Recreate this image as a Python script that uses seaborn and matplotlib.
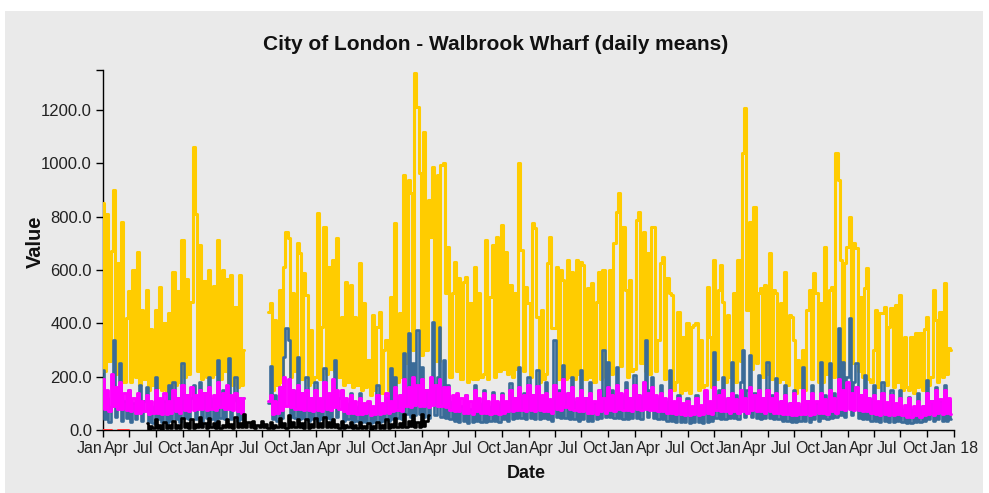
import numpy as np
import pandas as pd
import matplotlib
matplotlib.use('Agg')
import matplotlib.pyplot as plt
import seaborn as sns
from matplotlib.patches import Rectangle
from matplotlib.transforms import ScaledTranslation

nan = np.nan

# four readings per month (days 1, 8, 16, 23)
WEEK_DAYS = [1, 8, 16, 23]

# yellow series, Jan 2010 - Dec 2017
yellow = [
    # 2010
    850, 220, 810, 260,  670, 900, 210, 625,  240, 781, 180, 420,  520, 180, 600, 200,
    669, 170, 450, 190,  525, 150, 380, 170,  450, 160, 537, 150,  400, 140, 440, 160,
    594, 170, 520, 180,  712, 200, 566, 210,  480, 1062, 810, 220, 695, 190, 560, 200,
    # 2011
    600, 200, 540, 210,  712, 190, 600, 220,  566, 180, 580, 170,  460, 160, 580, 170,
    300, nan, nan, nan,  nan, nan, nan, nan,  nan, nan, nan, 444,  475, 150, 412, 170,
    525, 180, 612, 744,  719, 200, 512, 220,  700, 662, 190, 587,  506, 170, 375, 180,
    # 2012
    200, 812, 190, 387,  762, 210, 612, 230,  637, 220, 719, 200,  425, 170, 556, 180,
    544, 160, 425, 170,  625, 150, 475, 160,  262, 130, 431, 150,  387, 444, 140, 300,
    337, 150, 500, 170,  775, 180, 437, 200,  956, 250, 937, 887,  300, 1337, 1212, 962,
    # 2013
    280, 1119, 300, 862, 725, 987, 260, 956,  260, 994, 1000, 512, 687, 200, 512, 631,
    220, 569, 190, 556,  575, 180, 475, 190,  612, 190, 512, 200,  210, 712, 190, 500,
    694, 200, 725, 220,  769, 230, 669, 210,  544, 200, 512, 230,  1000, 675, 220, 537,
    # 2014
    475, 200, 775, 756,  425, 180, 450, 190,  210, 625, 725, 381,  381, 612, 190, 600,
    562, 190, 637, 200,  594, 190, 637, 210,  631, 619, 190, 531,  200, 550, 180, 480,
    594, 190, 600, 200,  230, 600, 210, 700,  819, 887, 240, 762,  525, 200, 562, 220,
    # 2015
    230, 787, 819, 250,  744, 220, 662, 210,  762, 762, 220, 337,  625, 650, 190, 569,
    512, 506, 150, 180,  444, 140, 350, 150,  400, 140, 387, 394,  400, 150, 337, 160,
    170, 537, 350, 160,  637, 190, 525, 619,  481, 180, 431, 200,  200, 512, 180, 637,
    # 2016
    260, 1037, 1206, 450, 781, 230, 837, 250, 512, 531, 200, 544,  210, 662, 190, 525,
    512, 180, 475, 190,  594, 170, 431, 425,  337, 140, 262, 160,  300, 150, 450, 525,
    190, 587, 512, 180,  475, 180, 687, 210,  525, 537, 200, 1037, 937, 637, 230, 625,
    # 2017
    687, 800, 250, 700,  681, 220, 500, 200,  531, 606, 190, 180,  300, 450, 160, 437,
    437, 462, 170, 387,  456, 160, 469, 180,  506, 150, 350, 160,  150, 350, 140, 362,
    160, 362, 150, 380,  425, 170, 200, 525,  412, 180, 444, 200,  550, 210, 306, 300,
]

# steel blue series, Jan 2010 - Dec 2017
blue = [
    # 2010
    225, 40, 120, 30,  90, 337, 50, 140,  250, 35, 110, 45,  150, 30, 100, 40,
    80, 170, 35, 110,  160, 30, 90, 25,   200, 40, 100, 30,  110, 25, 170, 35,
    180, 40, 120, 30,  250, 45, 130, 40,  120, 170, 40, 100, 180, 35, 140, 45,
    # 2011
    200, 40, 120, 35,  262, 45, 150, 40,  130, 269, 40, 110, 200, 35, 120, 40,
    120, nan, nan, nan, nan, nan, nan, nan, nan, nan, nan, 100, 240, 40, 130, 35,
    160, 45, 275, 381, 337, 50, 150, 45,  275, 40, 140, 45,  200, 35, 120, 40,
    # 2012
    180, 35, 110, 40,  231, 45, 130, 40,  140, 262, 50, 120, 150, 35, 100, 40,
    140, 30, 90, 35,   137, 30, 80, 30,   100, 25, 70, 30,   169, 30, 90, 35,
    120, 35, 231, 40,  200, 45, 130, 40,  287, 60, 362, 50,  250, 55, 375, 60,
    # 2013
    237, 50, 150, 45,  160, 406, 55, 200, 387, 50, 262, 45,  169, 40, 110, 35,
    131, 30, 90, 35,   130, 25, 80, 30,   169, 35, 100, 30,  150, 30, 90, 35,
    144, 35, 100, 30,  140, 40, 100, 35,  175, 40, 120, 45,  237, 45, 140, 40,
    # 2014
    200, 45, 130, 40,  225, 40, 120, 45,  180, 40, 110, 35,  337, 50, 150, 45,
    244, 45, 140, 40,  200, 40, 110, 35,  225, 40, 120, 35,  180, 35, 100, 40,
    150, 45, 300, 50,  256, 50, 150, 45,  237, 45, 130, 40,  180, 40, 120, 45,
    # 2015
    206, 45, 130, 40,  180, 337, 50, 150, 200, 45, 120, 40,  169, 40, 110, 35,
    225, 35, 100, 30,  130, 30, 80, 30,   120, 25, 80, 30,   130, 30, 80, 25,
    144, 30, 90, 35,   294, 45, 150, 40,  200, 40, 120, 45,  256, 45, 130, 40,
    # 2016
    180, 300, 50, 150, 280, 50, 140, 45,  206, 40, 120, 45,  256, 45, 130, 40,
    194, 40, 110, 35,  170, 35, 100, 30,  150, 30, 90, 35,   237, 35, 110, 30,
    170, 40, 100, 35,  256, 45, 130, 40,  250, 45, 140, 50,  381, 55, 256, 50,
    # 2017
    200, 419, 55, 180, 250, 45, 130, 40,  206, 40, 120, 35,  170, 35, 100, 30,
    181, 35, 100, 30,  150, 30, 90, 35,   150, 30, 80, 25,   125, 25, 80, 30,
    140, 30, 90, 35,   187, 40, 110, 35,  162, 40, 110, 35,  169, 35, 110, 40,
]

# magenta series, Jan 2010 - Dec 2017
magenta = [
    # 2010
    190, 80, 150, 70,  210, 90, 160, 80,  180, 80, 140, 75,  150, 70, 120, 65,
    140, 65, 110, 70,  130, 60, 110, 65,  150, 65, 120, 60,  140, 60, 110, 65,
    150, 70, 120, 65,  170, 75, 130, 70,  160, 75, 130, 80,  150, 80, 140, 75,
    # 2011
    160, 80, 130, 75,  180, 85, 140, 80,  170, 80, 130, 75,  140, 70, 120, 65,
    120, nan, nan, nan, nan, nan, nan, nan, nan, nan, nan, 110, 130, 60, 110, 65,
    160, 75, 200, 90,  190, 85, 150, 80,  170, 80, 140, 75,  150, 75, 120, 70,
    # 2012
    150, 75, 120, 70,  180, 80, 140, 75,  190, 85, 150, 80,  150, 70, 120, 65,
    130, 65, 110, 60,  120, 60, 100, 65,  110, 55, 90, 60,   130, 60, 100, 65,
    140, 65, 110, 70,  160, 75, 130, 70,  190, 90, 160, 85,  200, 95, 170, 90,
    # 2013
    190, 90, 150, 85,  200, 95, 170, 90,  190, 90, 160, 85,  160, 75, 130, 70,
    140, 70, 120, 65,  130, 65, 110, 60,  150, 70, 120, 65,  140, 65, 110, 60,
    130, 65, 110, 60,  130, 65, 110, 70,  150, 70, 120, 75,  160, 75, 130, 70,
    # 2014
    170, 75, 130, 70,  165, 75, 130, 70,  140, 70, 115, 65,  170, 80, 140, 75,
    190, 85, 140, 80,  160, 75, 120, 70,  150, 70, 120, 65,  140, 65, 110, 60,
    150, 70, 120, 65,  160, 75, 130, 70,  170, 80, 140, 75,  150, 75, 120, 70,
    # 2015
    170, 80, 130, 75,  180, 80, 140, 75,  160, 75, 130, 70,  140, 70, 120, 65,
    150, 65, 110, 60,  120, 60, 100, 55,  110, 55, 90, 60,   120, 55, 95, 60,
    150, 65, 110, 60,  160, 75, 130, 70,  150, 70, 120, 65,  140, 70, 115, 65,
    # 2016
    150, 70, 120, 65,  160, 75, 130, 70,  150, 70, 120, 65,  150, 70, 120, 65,
    140, 65, 110, 60,  130, 60, 100, 55,  140, 55, 100, 60,  150, 60, 110, 55,
    140, 60, 110, 65,  140, 65, 115, 60,  150, 70, 120, 65,  190, 80, 150, 75,
    # 2017
    180, 80, 140, 75,  160, 75, 130, 70,  150, 70, 120, 65,  130, 60, 110, 55,
    140, 60, 105, 55,  130, 55, 100, 60,  120, 55, 95, 50,   120, 50, 90, 55,
    110, 50, 90, 55,   140, 60, 110, 55,  150, 65, 115, 60,  150, 65, 120, 60,
]

# black series, Jun 2010 - Jan 2013
black_start = '2010-06-01'
black = [
    # 2010
    25, 5, 15, 8,   40, 8, 20, 5,   30, 6, 18, 8,   35, 8, 20, 6,
    45, 10, 25, 8,  40, 8, 22, 10,  50, 10, 28, 8,
    # 2011
    45, 10, 25, 8,  35, 8, 20, 10,  40, 10, 22, 8,  50, 10, 28, 12,
    60, 12, 30, 10, 35, 8, 20, 10,  35, 10, 22, 8,  30, 8, 18, 10,
    45, 10, 25, 8,  55, 12, 30, 10, 40, 10, 25, 8,  40, 8, 22, 10,
    # 2012
    45, 10, 25, 12, 50, 12, 30, 10, 40, 10, 22, 8,  35, 8, 20, 10,
    30, 8, 18, 6,   30, 6, 16, 8,   25, 5, 15, 6,   30, 6, 18, 8,
    40, 8, 22, 10,  45, 10, 25, 12, 60, 12, 35, 15, 55, 12, 30, 10,
    # 2013
    60, 15, 35, 56,
]

# red series, Jan 2010 - Apr 2010
red_start = '2010-01-01'
red = [1.5, 1.5, 1.5, 1.5,  1.5, nan, nan, 1.5,  1.5, 1.5, 1.5, 1.5,  1.5, nan, nan, nan]

colors = {'yellow': '#FFCC00', 'blue': '#3A6B98', 'magenta': '#FF00FF',
          'black': '#000000', 'red': '#FF3333'}
widths = {'yellow': 2.2, 'blue': 1.9, 'magenta': 2.1, 'black': 1.9, 'red': 1.4}

y_ticks = [0, 200, 400, 600, 800, 1000, 1200]
x_tick_labels = ['Jan', 'Apr', 'Jul', 'Oct'] * 8 + ['Jan 18']


def weekly_dates(start, n_values):
    months = pd.date_range(start, periods=n_values // 4, freq='MS')
    return [m + pd.Timedelta(days=d - 1) for m in months for d in WEEK_DAYS]


def to_frame(values, start):
    d = pd.DataFrame({'date': weekly_dates(start, len(values)), 'value': values})
    d['seg'] = d['value'].isna().cumsum()  # keep gaps as gaps
    return d.dropna()


series = [
    ('yellow', to_frame(yellow, '2010-01-01')),
    ('blue', to_frame(blue, '2010-01-01')),
    ('magenta', to_frame(magenta, '2010-01-01')),
    ('black', to_frame(black, black_start)),
    ('red', to_frame(red, red_start)),
]

sns.set_style('ticks')
plt.rcParams['font.family'] = ['Liberation Sans', 'DejaVu Sans']

fig = plt.figure(figsize=(9.89, 4.93), dpi=100)
fig.patch.set_facecolor('white')
fig.patches.append(Rectangle((5 / 989, 0), 978 / 989, 482 / 493, transform=fig.transFigure,
                             facecolor='#EAEAEA', edgecolor='none', zorder=-10))

ax = fig.add_axes([103 / 989, 1 - 430 / 493, 851 / 989, 360 / 493])
ax.set_zorder(1)
ax.set_facecolor('none')

# step lines, so each reading shows up as a thin vertical bar like the original
for i, (name, d) in enumerate(series):
    sns.lineplot(data=d, x='date', y='value', units='seg', estimator=None,
                 color=colors[name], linewidth=widths[name], drawstyle='steps-mid',
                 ax=ax, zorder=2 + i)

ax.set_xlim(pd.Timestamp('2010-01-01'), pd.Timestamp('2018-01-01'))
ax.set_ylim(0, 1350)
ax.set_xticks(pd.date_range('2010-01-01', '2018-01-01', freq='QS'))
ax.set_xticklabels(x_tick_labels)
ax.set_yticks(y_ticks)
ax.set_yticklabels([f'{v:.1f}' for v in y_ticks])
ax.set_yticks([1350], minor=True)
ax.tick_params(axis='both', which='both', direction='out', length=5, width=1,
               color='black', labelsize=12, labelcolor='#222222', pad=3)
ax.tick_params(axis='x', labelsize=11.5)
ax.set_xlabel('')
ax.set_ylabel('')
for s in ['top', 'right']:
    ax.spines[s].set_visible(False)
for s in ['left', 'bottom']:
    ax.spines[s].set_color('black')
    ax.spines[s].set_linewidth(1)
    ax.spines[s].set_zorder(1)

# month labels sit a little left of their ticks, the last one is centred
shift = ScaledTranslation(-13 / 100, 0, fig.dpi_scale_trans)
for lbl in ax.get_xticklabels()[:-1]:
    lbl.set_transform(lbl.get_transform() + shift)

fig.text(496 / 989, 1 - 45 / 493, 'City of London - Walbrook Wharf (daily means)',
         ha='center', va='center', fontsize=15, fontweight='bold', color='#111111')
fig.text(526 / 989, 1 - 474 / 493, 'Date', ha='center', va='center',
         fontsize=13, fontweight='bold', color='#111111')
fig.text(35 / 989, 1 - 242 / 493, 'Value', ha='center', va='center', rotation=90,
         fontsize=14.5, fontweight='bold', color='#111111')

fig.savefig('out.png', dpi=100)
